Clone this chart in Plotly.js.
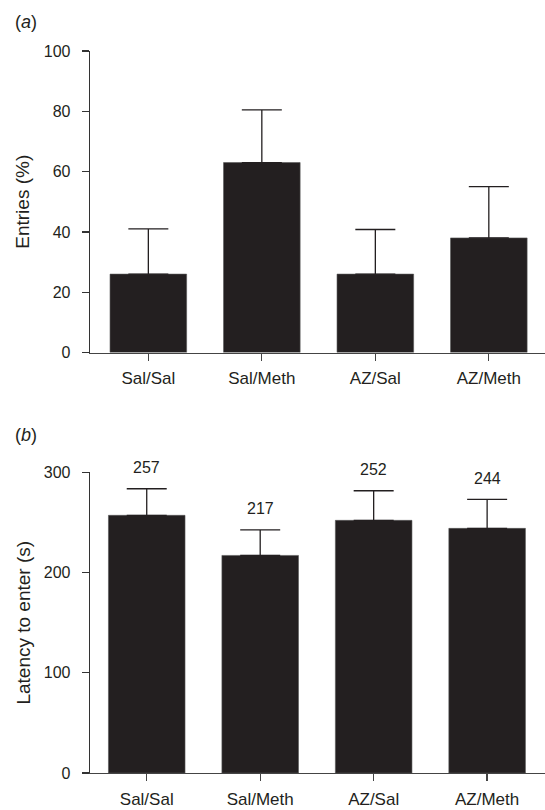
<!DOCTYPE html>
<html>
<head>
<meta charset="utf-8">
<script src="https://cdn.plot.ly/plotly-3.0.1.min.js"></script>
<style>
  html, body { margin: 0; padding: 0; background: #fff; }
  #chart { width: 545px; height: 810px; }
</style>
</head>
<body>
<div id="chart"></div>
<script>
// Data
var categories = ["Sal/Sal", "Sal/Meth", "AZ/Sal", "AZ/Meth"];
var entriesPct = [26, 63, 26, 38];
var entriesErr = [15, 17.5, 14.8, 17];
var latency = [257, 217, 252, 244];
var latencyErr = [26.5, 25.5, 29.5, 29];
var entriesTicks = [0, 20, 40, 60, 80, 100];
var latencyTicks = [0, 100, 200, 300];
var entriesTitle = "Entries (%)";
var latencyTitle = "Latency to enter (s)";

var barColor = "#231f20";
var textColor = "#231f20";
var fontFam = "Liberation Sans, Arial, sans-serif";

function zeros(n) { var a = []; for (var i = 0; i < n; i++) a.push(0); return a; }

var traceA = {
  type: "bar", x: categories, y: entriesPct, xaxis: "x", yaxis: "y",
  width: 0.675,
  marker: { color: barColor, line: { color: "#555", width: 0.6 } },
  error_y: { type: "data", array: entriesErr, arrayminus: zeros(entriesErr.length),
             symmetric: false, color: barColor, thickness: 1.3, width: 20 },
  hoverinfo: "skip", showlegend: false
};
var traceB = {
  type: "bar", x: categories, y: latency, xaxis: "x2", yaxis: "y2",
  width: 0.675,
  marker: { color: barColor, line: { color: "#555", width: 0.6 } },
  error_y: { type: "data", array: latencyErr, arrayminus: zeros(latencyErr.length),
             symmetric: false, color: barColor, thickness: 1.3, width: 20 },
  hoverinfo: "skip", showlegend: false
};

var titleFont = { family: fontFam, size: 19, color: textColor };
var annotations = [];
for (var i = 0; i < categories.length; i++) {
  annotations.push({
    x: categories[i], y: latency[i] + latencyErr[i], xref: "x2", yref: "y2",
    text: String(latency[i]), showarrow: false, yshift: 21,
    xanchor: "center", yanchor: "middle",
    font: { family: fontFam, size: 16, color: textColor }
  });
}
annotations.push({
  xref: "paper", yref: "paper", x: -0.17, y: 1.0406, xanchor: "left", yanchor: "middle",
  text: "(<i>a</i>)", showarrow: false, font: { family: fontFam, size: 18, color: textColor }
});
annotations.push({
  xref: "paper", yref: "paper", x: -0.17, y: 0.4685, xanchor: "left", yanchor: "middle",
  text: "(<i>b</i>)", showarrow: false, font: { family: fontFam, size: 18, color: textColor }
});
// y-axis titles
annotations.push({
  xref: "paper", yref: "paper", x: -0.1473, y: 0.7912, xanchor: "center", yanchor: "middle",
  textangle: -90, text: entriesTitle, showarrow: false, font: titleFont
});
annotations.push({
  xref: "paper", yref: "paper", x: -0.1451, y: 0.2083, xanchor: "center", yanchor: "middle",
  textangle: -90, text: latencyTitle, showarrow: false, font: titleFont
});

var xTickFont = { family: fontFam, size: 17, color: textColor };
var yTickFont = { family: fontFam, size: 16, color: textColor };
var xCommon = {
  type: "category", showgrid: false, zeroline: false,
  showline: true, linecolor: "#444", linewidth: 1.3,
  ticks: "outside", ticklen: 7, tickwidth: 1.3, tickcolor: "#444",
  tickfont: xTickFont, ticklabelstandoff: 3, fixedrange: true
};
var yCommon = {
  showgrid: false, zeroline: false,
  showline: true, linecolor: "#333", linewidth: 1.3,
  ticks: "outside", ticklen: 7, tickwidth: 1.3, tickcolor: "#333",
  tickfont: yTickFont, ticklabelstandoff: 8, fixedrange: true
};

var layout = {
  width: 545, height: 810,
  margin: { l: 90, r: 0, t: 51, b: 36.5 },
  paper_bgcolor: "#fff", plot_bgcolor: "#fff",
  xaxis: Object.assign({}, xCommon, { domain: [0, 1], anchor: "y", range: [-0.514, 3.495] }),
  yaxis: Object.assign({}, yCommon, {
    domain: [0.5824, 1], anchor: "x", range: [0, 100],
    tickvals: entriesTicks, ticktext: entriesTicks.map(String)
  }),
  xaxis2: Object.assign({}, xCommon, { domain: [0, 1], anchor: "y2", range: [-0.5, 3.51] }),
  yaxis2: Object.assign({}, yCommon, {
    domain: [0, 0.4166], anchor: "x2", range: [0, 300],
    tickvals: latencyTicks, ticktext: latencyTicks.map(String)
  }),
  annotations: annotations
};

Plotly.newPlot("chart", [traceA, traceB], layout, { staticPlot: true, displayModeBar: false });
</script>
</body>
</html>
